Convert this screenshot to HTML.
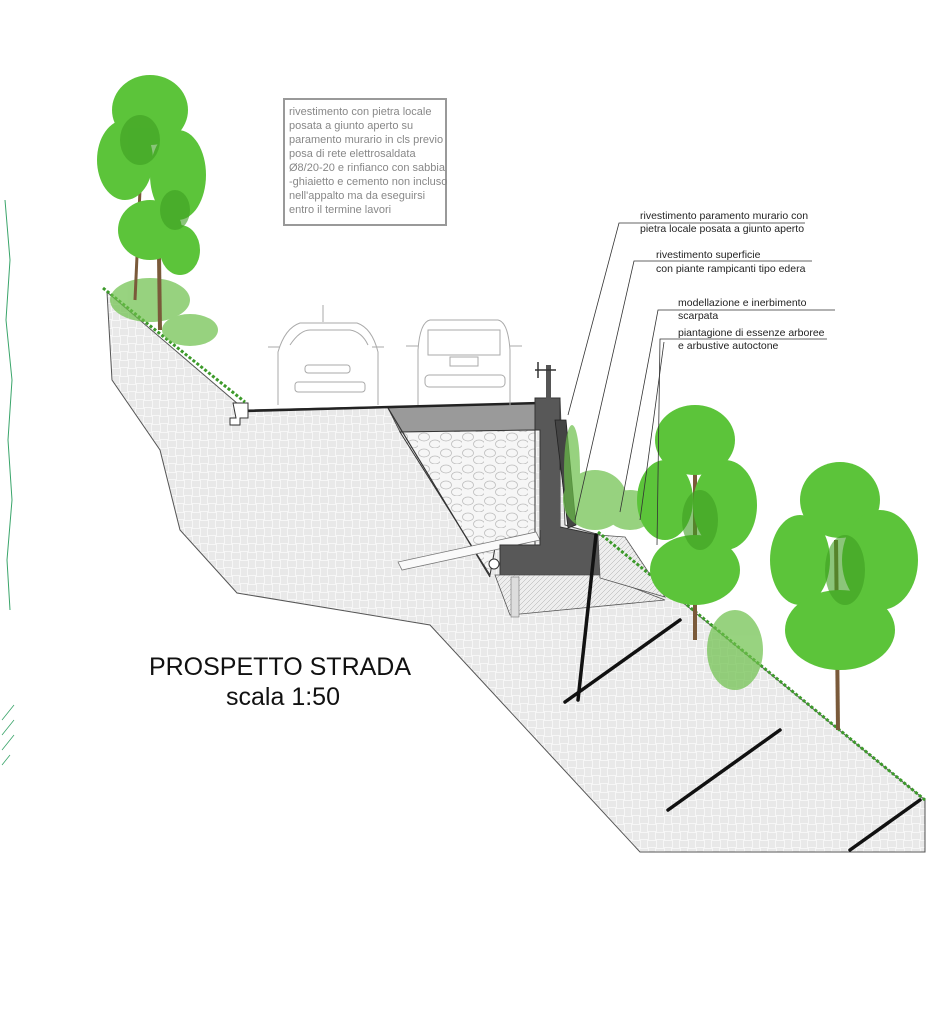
<!DOCTYPE html>
<html><head><meta charset="utf-8"><style>
html,body{margin:0;padding:0;background:#fff;}
svg{display:block;}
text{font-family:"Liberation Sans",sans-serif;}
</style></head><body>
<svg width="949" height="1024" viewBox="0 0 949 1024" xmlns="http://www.w3.org/2000/svg">
<defs>
<pattern id="bw" width="16" height="16" patternUnits="userSpaceOnUse">
<rect width="16" height="16" fill="#f6f6f6"/>
<path d="M0 2H8M0 4H8M0 6H8M10 0V8M12 0V8M14 0V8M2 8V16M4 8V16M6 8V16M8 10H16M8 12H16M8 14H16" stroke="#d2d2d2" stroke-width="0.7"/>
</pattern>
<pattern id="stone" width="22" height="16" patternUnits="userSpaceOnUse">
<rect width="22" height="16" fill="#f6f6f6"/>
<ellipse cx="6" cy="5" rx="5.5" ry="4" fill="none" stroke="#bbb" stroke-width="0.7"/>
<ellipse cx="17" cy="12" rx="5.5" ry="4" fill="none" stroke="#bbb" stroke-width="0.7"/>
</pattern>
<pattern id="hatch" width="5" height="5" patternUnits="userSpaceOnUse">
<rect width="5" height="5" fill="#eee"/>
<path d="M0 5L5 0" stroke="#aaa" stroke-width="0.5"/>
</pattern>
</defs>

<g stroke="#3aa56a" stroke-width="1" fill="none">
<path d="M5 200 L10 260 L6 320 L12 380 L8 440 L12 500 L7 560 L10 610"/>
</g>
<g stroke="#3aa56a" stroke-width="0.8">
<path d="M2 720 L14 705 M2 735 L14 720 M2 750 L14 735 M2 765 L10 755"/>
</g>

<polygon points="107,292 245,410 540,403 560,400 565,525 600,535 925,800 925,852 640,852 430,625 237,593 180,530 160,450 112,380" fill="url(#bw)" stroke="#555" stroke-width="1"/>

<polygon points="388,408 535,403 535,430 400,432" fill="#9a9a9a" stroke="#444" stroke-width="0.8"/>
<polygon points="400,432 535,430 535,545 495,548 490,575" fill="url(#stone)" stroke="#333" stroke-width="1"/>
<line x1="388" y1="408" x2="490" y2="577" stroke="#333" stroke-width="1.2"/>
<line x1="245" y1="411" x2="540" y2="403" stroke="#222" stroke-width="2.5"/>
<polygon points="398,562 402,570 540,540 536,532" fill="#fafafa" stroke="#777" stroke-width="0.8"/>
<circle cx="494" cy="564" r="5" fill="#fff" stroke="#333"/>
<polygon points="535,398 560,398 560,527 598,535 600,575 500,575 500,545 540,545 540,430 535,430" fill="#585858" stroke="#333"/>
<rect x="540" y="470" width="20" height="60" fill="#585858"/>
<polygon points="555,420 566,420 576,525 568,528" fill="#444" stroke="#222" stroke-width="0.8"/>
<polygon points="495,575 600,575 665,600 510,615" fill="url(#hatch)" stroke="#555" stroke-width="0.8"/>
<polygon points="598,535 625,537 665,597 600,578" fill="url(#hatch)" stroke="#555" stroke-width="0.8"/>
<rect x="511" y="577" width="8" height="40" fill="#ddd" stroke="#777" stroke-width="0.6"/>
<rect x="546" y="365" width="5" height="35" fill="#555"/>
<path d="M535 370 H556 M538 362 V378" stroke="#333" stroke-width="1.5"/>
<path d="M233 403 H248 V418 H240 V425 H230 V418 H236 Z" fill="#fff" stroke="#333"/>

<g stroke="#111" stroke-width="3.5" stroke-linecap="round">
<line x1="596" y1="535" x2="578" y2="700"/>
<line x1="565" y1="702" x2="680" y2="620"/>
<line x1="668" y1="810" x2="780" y2="730"/>
<line x1="850" y1="850" x2="920" y2="800"/>
</g>

<g fill="none" stroke="#aaa" stroke-width="1">
<path d="M278 405 V352 Q285 328 300 323 H357 Q372 328 378 352 V405"/>
<path d="M290 345 Q300 330 310 330 H350 Q362 332 368 345"/>
<rect x="305" y="365" width="45" height="8" rx="3"/>
<rect x="295" y="382" width="70" height="10" rx="3"/>
<path d="M268 347 h12 M372 347 h12 M323 322 V305"/>
<path d="M418 405 V350 Q420 322 430 320 H498 Q508 322 510 350 V405"/>
<rect x="428" y="330" width="72" height="25"/>
<rect x="450" y="357" width="28" height="9"/>
<rect x="425" y="375" width="80" height="12" rx="4"/>
<path d="M406 346 h12 M510 346 h12"/>
</g>

<g stroke="#3c9a2a" stroke-width="3" fill="none" stroke-dasharray="3 2">
<line x1="103" y1="288" x2="245" y2="402"/>
<line x1="598" y1="532" x2="925" y2="800"/>
</g>

<g fill="#6cc04a" opacity="0.7">
<ellipse cx="150" cy="300" rx="40" ry="22"/>
<ellipse cx="190" cy="330" rx="28" ry="16"/>
<ellipse cx="595" cy="500" rx="32" ry="30"/>
<ellipse cx="630" cy="510" rx="25" ry="20"/>
<ellipse cx="735" cy="650" rx="28" ry="40"/>
<ellipse cx="572" cy="470" rx="8" ry="45"/>
</g>

<g>
<line x1="160" y1="330" x2="158" y2="180" stroke="#7a5a3a" stroke-width="4"/>
<line x1="135" y1="300" x2="140" y2="190" stroke="#7a5a3a" stroke-width="3"/>
<g fill="#5cc43a">
<ellipse cx="150" cy="110" rx="38" ry="35"/>
<ellipse cx="125" cy="160" rx="28" ry="40"/>
<ellipse cx="178" cy="175" rx="28" ry="45"/>
<ellipse cx="150" cy="230" rx="32" ry="30"/>
<ellipse cx="180" cy="250" rx="20" ry="25"/>
</g>
<g fill="#3e9f22" opacity="0.6">
<ellipse cx="140" cy="140" rx="20" ry="25"/>
<ellipse cx="175" cy="210" rx="15" ry="20"/>
</g>
</g>
<g>
<line x1="695" y1="640" x2="695" y2="470" stroke="#7a5a3a" stroke-width="4"/>
<g fill="#5cc43a">
<ellipse cx="695" cy="440" rx="40" ry="35"/>
<ellipse cx="665" cy="500" rx="28" ry="40"/>
<ellipse cx="725" cy="505" rx="32" ry="45"/>
<ellipse cx="695" cy="570" rx="45" ry="35"/>
</g>
<g fill="#3e9f22" opacity="0.6"><ellipse cx="700" cy="520" rx="18" ry="30"/></g>
</g>
<g>
<line x1="838" y1="730" x2="836" y2="540" stroke="#7a5a3a" stroke-width="4"/>
<g fill="#5cc43a">
<ellipse cx="840" cy="500" rx="40" ry="38"/>
<ellipse cx="800" cy="560" rx="30" ry="45"/>
<ellipse cx="880" cy="560" rx="38" ry="50"/>
<ellipse cx="840" cy="630" rx="55" ry="40"/>
</g>
<g fill="#3e9f22" opacity="0.6"><ellipse cx="845" cy="570" rx="20" ry="35"/></g>
</g>

<rect x="284" y="99" width="162" height="126" fill="#fff" stroke="#999" stroke-width="2"/>
<g font-size="11" fill="#888">
<text x="289" y="115">rivestimento con pietra locale</text>
<text x="289" y="129">posata a  giunto aperto su</text>
<text x="289" y="143">paramento murario in cls  previo</text>
<text x="289" y="157">posa di rete elettrosaldata</text>
<text x="289" y="171">Ø8/20-20 e rinfianco con sabbia</text>
<text x="289" y="185">-ghiaietto e cemento non incluso</text>
<text x="289" y="199">nell'appalto ma da eseguirsi</text>
<text x="289" y="213">entro il termine lavori</text>
</g>

<g stroke="#333" stroke-width="0.8" fill="none">
<path d="M805 223 H619 L568 415"/>
<path d="M812 261 H634 L575 520"/>
<path d="M835 310 H658 L620 512"/>
<path d="M827 339 H660 L657 545"/>
<path d="M664 342 L640 520"/>
</g>
<g font-size="10.5" fill="#222">
<text x="640" y="219">rivestimento paramento murario con</text>
<text x="640" y="232">pietra locale posata a giunto aperto</text>
<text x="656" y="258">rivestimento superficie</text>
<text x="656" y="272">con piante rampicanti tipo edera</text>
<text x="678" y="306">modellazione e inerbimento</text>
<text x="678" y="319">scarpata</text>
<text x="678" y="336">piantagione di essenze arboree</text>
<text x="678" y="349">e arbustive autoctone</text>
</g>

<text x="280" y="675" font-size="25" text-anchor="middle" fill="#111">PROSPETTO STRADA</text>
<text x="283" y="705" font-size="25" text-anchor="middle" fill="#111">scala 1:50</text>
</svg>
</body></html>
